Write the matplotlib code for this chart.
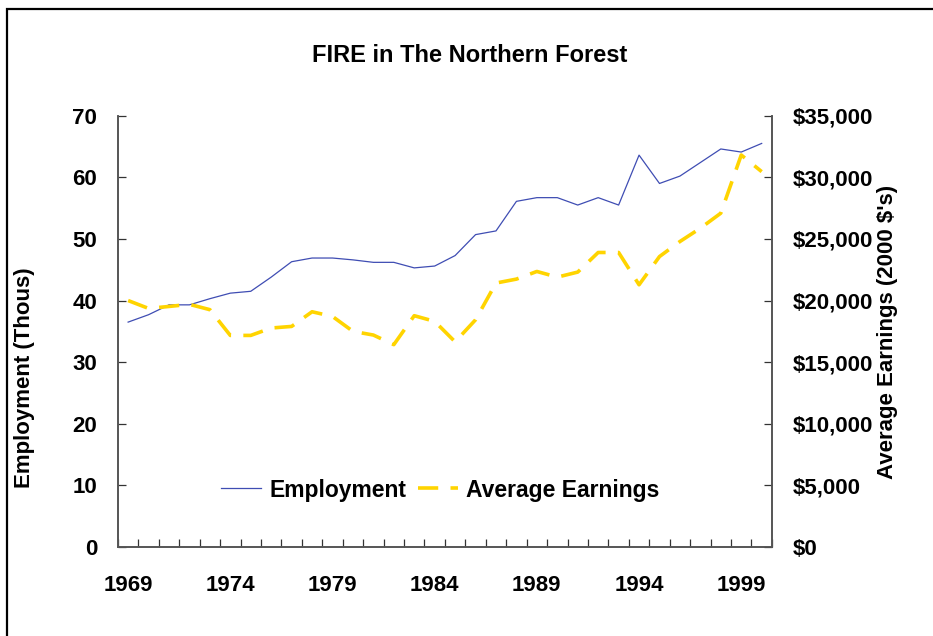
import matplotlib
matplotlib.use("Agg")
import matplotlib.pyplot as plt
from matplotlib.patches import Rectangle
from matplotlib.ticker import FuncFormatter, MultipleLocator, FixedLocator
from matplotlib.font_manager import FontProperties

years = list(range(1969, 2001))
employment = [36.5, 37.7, 39.3, 39.3, 40.3, 41.2, 41.5, 43.8, 46.3, 46.9,
              46.9, 46.6, 46.2, 46.2, 45.3, 45.6, 47.3, 50.7, 51.3, 56.1,
              56.7, 56.7, 55.5, 56.7, 55.5, 63.6, 59.0, 60.2, 62.4, 64.6,
              64.1, 65.5]
earnings = [20000, 19360, 19520, 19690, 19260, 17170, 17170, 17770, 17900, 19090,
            18710, 17500, 17200, 16420, 18770, 18310, 16650, 18440, 21420, 21740,
            22360, 21900, 22310, 23900, 23900, 21280, 23570, 24790, 25870, 27090,
            31810, 30460]
label_years = [1969, 1974, 1979, 1984, 1989, 1994, 1999]

FONT = "Liberation Sans"
plt.rcParams['font.family'] = [FONT, 'DejaVu Sans']
FS = 16

fig = plt.figure(figsize=(9.33, 6.36), dpi=100)
fig.patches.append(Rectangle((7.5/933, -0.1), 1.2, 1 - 8.5/636 + 0.1,
                             transform=fig.transFigure, fill=False,
                             edgecolor='black', linewidth=1.6, zorder=0))

ax = fig.add_axes([117.9/933, 1 - 547/636, (771.9 - 117.9)/933, (547 - 115.7)/636])
ax2 = ax.twinx()

x = list(range(len(years)))
l1, = ax.plot(x, employment, color='#3f4db3', lw=0.9, label='Employment')
l2, = ax2.plot(x, earnings, color='#FFD400', lw=2.6, dashes=(5.6, 3.4),
               label='Average Earnings')

ax.set_xlim(-0.5, len(years) - 0.5)
ax.set_ylim(0, 70)
ax2.set_ylim(0, 35000)
ax.yaxis.set_major_locator(MultipleLocator(10))
ax2.yaxis.set_major_locator(MultipleLocator(5000))
ax2.yaxis.set_major_formatter(FuncFormatter(lambda v, p: f"${v:,.0f}"))

ax.set_xticks([years.index(y) for y in label_years])
ax.set_xticklabels([str(y) for y in label_years])
ax.xaxis.set_minor_locator(FixedLocator([i - 0.5 for i in range(len(years) + 1)]))
ax.tick_params(axis='x', which='major', length=0, pad=20)
ax.tick_params(axis='x', which='minor', direction='in', length=6, width=0.9, color='#333333')

ax.tick_params(axis='y', direction='in', length=6, width=0.9, pad=15, color='#333333')
ax2.tick_params(axis='y', direction='in', length=6, width=0.9, pad=15, color='#333333')

for a in (ax, ax2):
    a.spines['top'].set_visible(False)
    for s in ('left', 'right', 'bottom'):
        a.spines[s].set_color('#555555')
        a.spines[s].set_linewidth(1.2)

fp = FontProperties(family=FONT, weight='bold', size=FS)
for lab in ax.get_xticklabels() + ax.get_yticklabels() + ax2.get_yticklabels():
    lab.set_fontproperties(fp)

fig.text(25/933, 1 - 378/636, 'Employment (Thous)', rotation=90, ha='center', va='center',
         fontproperties=fp)
fig.text(888/933, 1 - 331.5/636, "Average Earnings (2000 $'s)", rotation=90,
         ha='center', va='center', fontproperties=fp)

fig.text(470/933, 1 - 55/636, 'FIRE in The Northern Forest', ha='center', va='center',
         fontproperties=FontProperties(family=FONT, weight='bold', size=17))

leg = ax.legend([l1, l2], ['Employment', 'Average Earnings'], ncol=2, frameon=False,
                loc='center', bbox_to_anchor=((440 - 117.9)/654, (547 - 490)/431.3),
                prop=FontProperties(family=FONT, weight='bold', size=16.5),
                handlelength=1.75, handletextpad=0.35, columnspacing=0.5)

fig.savefig('out.png', dpi=100)
